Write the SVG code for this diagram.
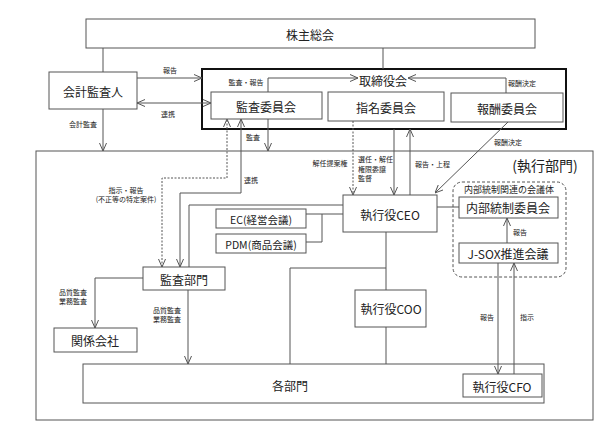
<svg xmlns="http://www.w3.org/2000/svg" width="607" height="435" viewBox="0 0 607 435">
<style>
.b{fill:#fff;stroke:#555;stroke-width:1}
.t{font-family:"Noto Sans CJK JP","Liberation Sans",sans-serif;font-size:12px;fill:#222;text-anchor:middle;dominant-baseline:central}
.s{font-family:"Noto Sans CJK JP","Liberation Sans",sans-serif;font-size:7px;fill:#222;text-anchor:middle;dominant-baseline:central}
.l{fill:none;stroke:#555;stroke-width:1}
.d{stroke-dasharray:2 1.5}
</style>
<defs>
<marker id="a" viewBox="0 0 8 8" refX="8" refY="4" markerWidth="8" markerHeight="8" markerUnits="userSpaceOnUse" orient="auto-start-reverse">
<path d="M0,0.5 L8,4 L0,7.5" fill="none" stroke="#555" stroke-width="1"/>
</marker>
</defs>
<rect width="607" height="435" fill="#fff"/>
<g id="exec">
<rect class="b" x="36" y="151" width="557" height="269"/>
<text class="t" x="545" y="165" style="font-size:14px">(執行部門)</text>
</g>
<g id="board">
<rect x="202" y="69" width="364" height="60" fill="#fff" stroke="#111" stroke-width="2"/>
<text class="t" x="383" y="80">取締役会</text>
</g>
<g id="shareholders"><rect class="b" x="86" y="19" width="449" height="29"/><text class="t" x="310" y="34">株主総会</text></g>
<g id="auditor"><rect class="b" x="49" y="72" width="88" height="37"/><text class="t" x="93" y="91">会計監査人</text></g>
<g id="audit-committee"><rect class="b" x="211" y="92" width="111" height="27"/><text class="t" x="266" y="106">監査委員会</text></g>
<g id="nomination"><rect class="b" x="328" y="92" width="116" height="29"/><text class="t" x="386" y="107">指名委員会</text></g>
<g id="compensation"><rect class="b" x="451" y="93" width="112" height="29"/><text class="t" x="507" y="108">報酬委員会</text></g>
<g id="internal-group">
<rect x="453" y="182" width="113" height="95" rx="9" fill="none" stroke="#555" stroke-dasharray="3 2"/>
<text class="t" x="509" y="189" style="font-size:9px">内部統制関連の会議体</text>
</g>
<g id="audit-dept"><rect class="b" x="143" y="267" width="82" height="23"/><text class="t" x="184" y="279">監査部門</text></g>
<g id="ec"><rect class="b" x="216" y="209" width="90" height="19"/><text class="t" x="261" y="219" style="font-size:10.5px">EC(経営会議)</text></g>
<g id="pdm"><rect class="b" x="216" y="234" width="90" height="19"/><text class="t" x="261" y="244" style="font-size:10.5px">PDM(商品会議)</text></g>
<g id="ceo"><rect class="b" x="343" y="195" width="94" height="37"/><text class="t" x="390" y="214">執行役CEO</text></g>
<g id="ic-committee"><rect class="b" x="459" y="197" width="99" height="21"/><text class="t" x="508" y="207">内部統制委員会</text></g>
<g id="jsox"><rect class="b" x="459" y="243" width="99" height="20"/><text class="t" x="508" y="253">J-SOX推進会議</text></g>
<g id="coo"><rect class="b" x="355" y="290" width="71" height="37"/><text class="t" x="391" y="308">執行役COO</text></g>
<g id="affiliates"><rect class="b" x="54" y="328" width="83" height="24"/><text class="t" x="95" y="340">関係会社</text></g>
<g id="departments"><rect class="b" x="83" y="364" width="461" height="39"/><text class="t" x="290" y="385">各部門</text></g>
<g id="cfo"><rect class="b" x="463" y="374" width="79" height="23"/><text class="t" x="502" y="386">執行役CFO</text></g>
<g id="connectors">
<path class="l" d="M103,48 V72"/>
<path class="l" d="M383,48 V69"/>
<path class="l" d="M137,78 H202" marker-end="url(#a)"/>
<path class="l" d="M137,103 H211" marker-start="url(#a)" marker-end="url(#a)"/>
<path class="l" d="M268,92 V78 H358" marker-end="url(#a)"/>
<path class="l" d="M506,93 V78 H408" marker-end="url(#a)"/>
<path class="l" d="M103,109 V151" marker-end="url(#a)"/>
<path class="l" d="M268,119 V151" marker-end="url(#a)"/>
<path class="l d" d="M162,267 V178 H227 V119" marker-start="url(#a)" marker-end="url(#a)"/>
<path class="l" d="M180,267 V193 H241 V119" marker-start="url(#a)" marker-end="url(#a)"/>
<path class="l" d="M189,267 V205 H343"/>
<path class="l" d="M343,214 H306 M322,214 V242 H306"/>
<path class="l d" d="M353,121 V195" marker-end="url(#a)"/>
<path class="l" d="M394,129 V195" marker-end="url(#a)"/>
<path class="l" d="M410,195 V129" marker-end="url(#a)"/>
<path class="l" d="M508,122 L435,193" marker-end="url(#a)"/>
<path class="l" d="M437,207 H459"/>
<path class="l" d="M507,243 V218" marker-end="url(#a)"/>
<path class="l" d="M498,263 V374" marker-end="url(#a)"/>
<path class="l" d="M514,374 V263" marker-end="url(#a)"/>
<path class="l" d="M386,232 V290 M290,364 V268 H386 M386,327 V364"/>
<path class="l" d="M143,278 H95 V328" marker-end="url(#a)"/>
<path class="l" d="M188,290 V364" marker-end="url(#a)"/>
<text class="s" x="170" y="70">報告</text>
<text class="s" x="168" y="114">連携</text>
<text class="s" x="246" y="82">監査・報告</text>
<text class="s" x="522" y="83">報酬決定</text>
<text class="s" x="83" y="124">会計監査</text>
<text class="s" x="253" y="137">監査</text>
<text class="s" x="251" y="180">連携</text>
<text class="s" x="126" y="190">指示・報告</text>
<text class="s" x="126" y="199">(不正等の特定案件)</text>
<text class="s" x="330" y="163">解任提案権</text>
<text class="s" x="358" y="159" style="text-anchor:start">選任・解任</text>
<text class="s" x="358" y="169" style="text-anchor:start">権限委譲</text>
<text class="s" x="358" y="178" style="text-anchor:start">監督</text>
<text class="s" x="415" y="164" style="text-anchor:start">報告・上程</text>
<text class="s" x="508" y="142">報酬決定</text>
<text class="s" x="520" y="232">報告</text>
<text class="s" x="487" y="317">報告</text>
<text class="s" x="527" y="317">指示</text>
<text class="s" x="73" y="292">品質監査</text>
<text class="s" x="73" y="301">業務監査</text>
<text class="s" x="167" y="310">品質監査</text>
<text class="s" x="167" y="319">業務監査</text>
</g>
</svg>
